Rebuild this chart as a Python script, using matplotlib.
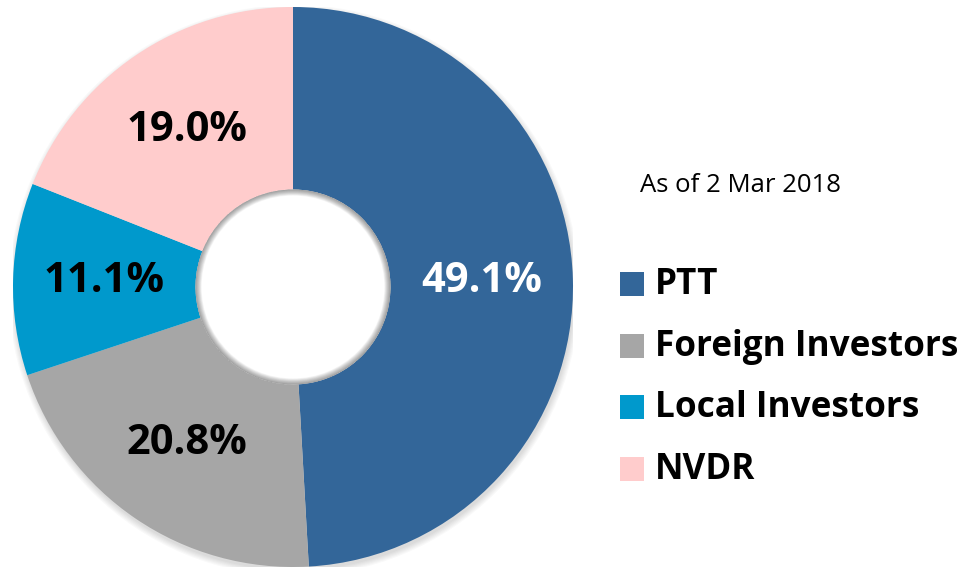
import matplotlib
matplotlib.use("Agg")
import matplotlib.pyplot as plt
from matplotlib.patches import Rectangle, Circle, Wedge
import numpy as np

categories = ["PTT", "Foreign Investors", "Local Investors", "NVDR"]
values = [49.1, 20.8, 11.1, 19.0]
colors = ["#336699", "#A6A6A6", "#0099CC", "#FFCCCC"]
label_colors = ["white", "black", "black", "black"]
note = "As of 2 Mar 2018"

W, H = 964, 571
fig = plt.figure(figsize=(W / 100, H / 100), dpi=100)
fig.patch.set_facecolor("white")

cx, cy, R = 293, 287, 280
ax = fig.add_axes([(cx - R) / W, (H - cy - R) / H, 2 * R / W, 2 * R / H])
ax.set_xlim(-1, 1)
ax.set_ylim(-1, 1)
ax.set_aspect("equal")
ax.axis("off")

# subtle outer shadow
for i in range(6):
    ax.add_patch(Circle((0.004, -0.012), 1.0 + 0.004 * i, color="black", alpha=0.022, lw=0, zorder=0))

inner = 97.5 / 280
wedges, texts, autotexts = ax.pie(
    values, colors=colors, startangle=90, counterclock=False, radius=1.0,
    wedgeprops=dict(width=1 - inner, linewidth=0),
    autopct="%1.1f%%", pctdistance=0.675,
    textprops=dict(family="Open Sans", fontweight="bold", fontsize=30),
)
for t, c in zip(autotexts, label_colors):
    t.set_color(c)
ax.set_xlim(-1, 1)
ax.set_ylim(-1, 1)

# inner shadow of the hole
ax.add_patch(Circle((0, 0), inner, color="white", lw=0, zorder=3))
n = 12
for i in range(n):
    w = 0.022 * (i + 1) / n
    ax.add_patch(Wedge((0, 0), inner, 0, 360, width=w, color="black", alpha=0.035, lw=0, zorder=4))

# note text
fig.text(640 / W, 1 - 186 / H, note, family="Open Sans", fontsize=18.5, va="center", ha="left")

# legend
row_y = [284, 346, 407, 469]
for cat, col, y in zip(categories, colors, row_y):
    fig.patches.append(Rectangle((620 / W, 1 - (y + 12) / H), 24 / W, 24 / H,
                                 transform=fig.transFigure, facecolor=col, lw=0))
    fig.text(655 / W, 1 - (y + 1) / H, cat, family="Open Sans", fontweight="bold",
             fontsize=25.3, va="center", ha="left")

fig.savefig("out.png", dpi=100, facecolor="white")
